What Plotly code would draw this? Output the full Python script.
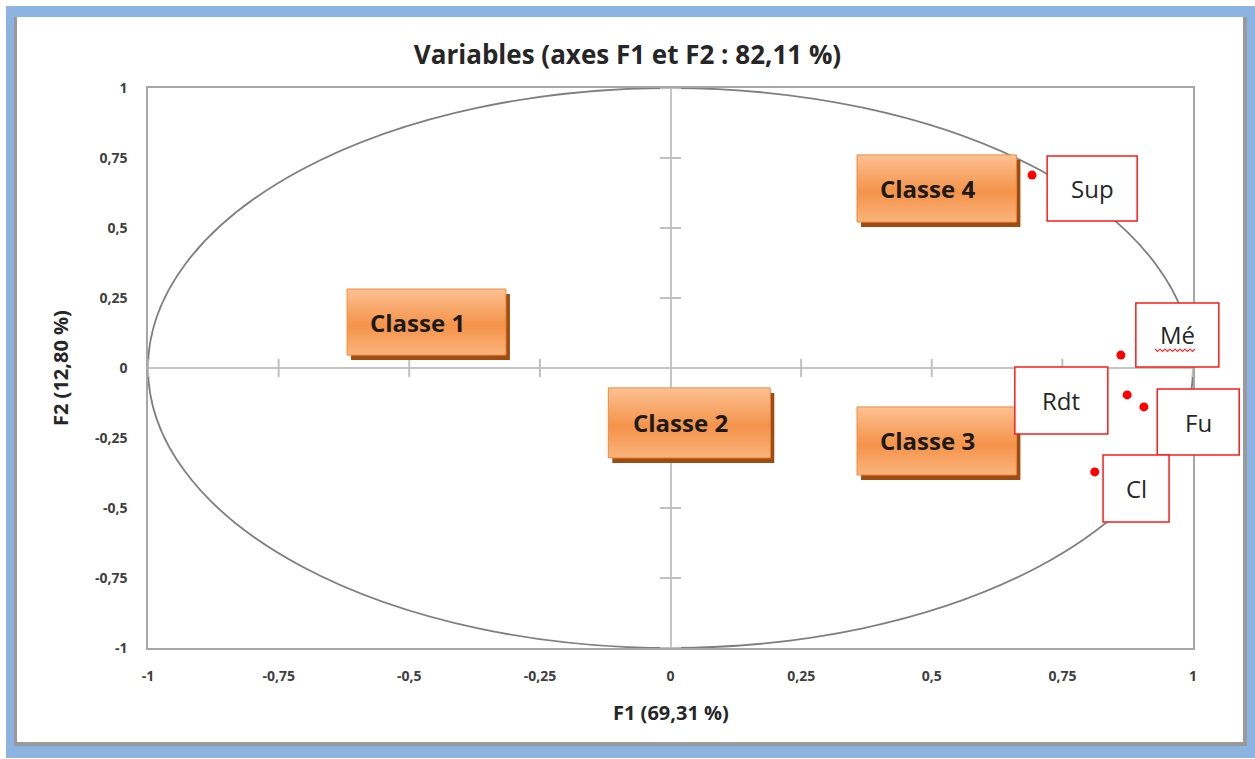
import plotly.graph_objects as go

# Variable coordinates on the first two factorial axes
variables = ["Sup", "Mé", "Rdt", "Fu", "Cl"]
f1_coords = [0.692, 0.862, 0.874, 0.906, 0.812]
f2_coords = [0.689, 0.046, -0.096, -0.139, -0.371]

# Class groupings shown as labelled boxes
classes = ["Classe 1", "Classe 2", "Classe 3", "Classe 4"]

tick_vals = [-1, -0.75, -0.5, -0.25, 0, 0.25, 0.5, 0.75, 1]
tick_text = ["-1", "-0,75", "-0,5", "-0,25", "0", "0,25", "0,5", "0,75", "1"]

title_text = "Variables (axes F1 et F2 : 82,11 %)"
x_title = "F1 (69,31 %)"
y_title = "F2 (12,80 %)"

W, H = 1255, 759
ML, MR, MT, MB = 148, 62, 88, 111
PW, PH = W - ML - MR, H - MT - MB


def px_x(px):
    """pixel column -> paper x"""
    return (px - ML) / PW


def px_y(py):
    """pixel row -> paper y"""
    return (H - MB - py) / PH


def data_to_paper(v):
    """axis value in [-1, 1] -> paper fraction"""
    return (v + 1) / 2.0


# pixel -> data scale
SX = PW / 2.0
SY = PH / 2.0

# class box extents in data units (x0, x1, y0, y1)
class_boxes = {
    "Classe 1": (-0.619, -0.315, 0.046, 0.282),
    "Classe 2": (-0.119, 0.191, -0.321, -0.071),
    "Classe 3": (0.357, 0.662, -0.382, -0.139),
    "Classe 4": (0.357, 0.662, 0.521, 0.761),
}

# label boxes: centre (data units) and size (px)
label_boxes = {
    "Sup": (0.807, 0.641, 90, 65),
    "Mé": (0.970, 0.118, 83, 64),
    "Rdt": (0.748, -0.116, 93, 67),
    "Fu": (1.010, -0.193, 82, 66),
    "Cl": (0.891, -0.430, 66, 67),
}

FONT = "Open Sans"
fig = go.Figure()

# small tick marks on the crossing axes
cross = [t for t in tick_vals if t != 0]
fig.add_trace(go.Scatter(
    x=cross, y=[0] * len(cross), mode="markers", hoverinfo="skip",
    marker=dict(symbol="line-ns", size=13, line=dict(color="#bfbfbf", width=2)),
    showlegend=False))
fig.add_trace(go.Scatter(
    x=[0] * len(cross), y=cross, mode="markers", hoverinfo="skip",
    marker=dict(symbol="line-ew", size=15, line=dict(color="#bfbfbf", width=2)),
    showlegend=False))

# orange class boxes with drop shadow and vertical gradient
dx, dy = 4 / SX, 5 / SY
for name in classes:
    x0, x1, y0, y1 = class_boxes[name]
    fig.add_trace(go.Scatter(
        x=[x0 + dx, x1 + dx, x1 + dx, x0 + dx, x0 + dx],
        y=[y0 - dy, y0 - dy, y1 - dy, y1 - dy, y0 - dy],
        mode="lines", fill="toself", fillcolor="#9e4c12",
        line=dict(width=0, color="#9e4c12"), hoverinfo="skip", showlegend=False))
    fig.add_trace(go.Scatter(
        x=[x0, x1, x1, x0, x0], y=[y0, y0, y1, y1, y0],
        mode="lines", fill="toself",
        fillgradient=dict(type="vertical",
                          colorscale=[[0, "#fab47c"], [0.45, "#f5934a"], [1, "#fcc193"]]),
        line=dict(width=1, color="#f08a3c"), hoverinfo="skip", showlegend=False))
    fig.add_annotation(x=(x0 + x1) / 2, y=(y0 + y1) / 2, xref="x", yref="y",
                       text=name, showarrow=False, xshift=-9,
                       font=dict(family=FONT, size=24, color="#1a1a1a", weight="bold"))

# variable points
fig.add_trace(go.Scatter(
    x=f1_coords, y=f2_coords, mode="markers", text=variables,
    marker=dict(color="#ff0000", size=9), showlegend=False))

shapes = []
# outer blue frame with shadowed white panel
shapes.append(dict(type="rect", xref="paper", yref="paper", layer="below",
                   x0=px_x(6), x1=px_x(1255), y0=px_y(758), y1=px_y(6),
                   fillcolor="#8db3e2", line=dict(width=0)))
shapes.append(dict(type="rect", xref="paper", yref="paper", layer="below",
                   x0=px_x(14), x1=px_x(1247), y0=px_y(746), y1=px_y(17),
                   fillcolor="#9a9a9a", line=dict(width=0)))
shapes.append(dict(type="rect", xref="paper", yref="paper", layer="below",
                   x0=px_x(17), x1=px_x(1243), y0=px_y(742), y1=px_y(17),
                   fillcolor="white", line=dict(width=0)))
# correlation circle
shapes.append(dict(type="circle", xref="x", yref="y", layer="below",
                   x0=-1, x1=1, y0=-1, y1=1, line=dict(color="#7f7f7f", width=1.8)))

# white label boxes with red outline, text on top
for name in variables:
    cx, cy, bw, bh = label_boxes[name]
    px_c, py_c = data_to_paper(cx), data_to_paper(cy)
    hw, hh = bw / 2 / PW, bh / 2 / PH
    shapes.append(dict(type="rect", xref="paper", yref="paper", layer="above",
                       x0=px_c - hw, x1=px_c + hw, y0=py_c - hh, y1=py_c + hh,
                       fillcolor="white", line=dict(color="#ff1a1a", width=1.5)))
    fig.add_annotation(x=px_c, y=py_c, xref="paper", yref="paper", text=name,
                       showarrow=False, xanchor="center", yanchor="middle",
                       font=dict(family=FONT, size=24, color="#262626"))

# spell-check squiggle under "Mé"
pts = []
xs = 1155
i = 0
while xs <= 1197:
    pts.append((px_x(xs), px_y(350 + (1.5 if i % 2 else -1.0))))
    xs += 2.5
    i += 1
path = "M " + " L ".join(f"{a:.5f},{b:.5f}" for a, b in pts)
shapes.append(dict(type="path", xref="paper", yref="paper", path=path,
                   line=dict(color="#ff3030", width=1.2), layer="above"))

# axis titles
fig.add_annotation(x=0.5, y=px_y(712), xref="paper", yref="paper", text=x_title,
                   showarrow=False, xanchor="center", yanchor="middle",
                   font=dict(family=FONT, size=20, color="#262626", weight="bold"))
fig.add_annotation(x=px_x(60), y=0.5, xref="paper", yref="paper", text=y_title,
                   textangle=-90, showarrow=False, xanchor="center", yanchor="middle",
                   font=dict(family=FONT, size=20, color="#262626", weight="bold"))

axis_common = dict(
    range=[-1, 1], tickvals=tick_vals, ticktext=tick_text, showgrid=False,
    zeroline=True, zerolinecolor="#c4c4c4", zerolinewidth=2,
    showline=True, mirror=True, linecolor="#a6a6a6", linewidth=1.5,
    ticks="outside", tickcolor="rgba(0,0,0,0)",
    tickfont=dict(family=FONT, size=14, color="#404040", weight="bold"),
)

fig.update_layout(
    width=W, height=H,
    margin=dict(l=ML, r=MR, t=MT, b=MB, autoexpand=False),
    paper_bgcolor="white", plot_bgcolor="rgba(0,0,0,0)",
    title=dict(text=title_text, x=0.5, xref="container", xanchor="center",
               y=1 - 55 / H, yref="container", yanchor="middle",
               font=dict(family=FONT, size=26, color="#262626", weight="bold")),
    xaxis=dict(**axis_common, ticklen=14),
    yaxis=dict(**axis_common, ticklen=16),
    shapes=shapes,
    showlegend=False,
)

fig.write_html("out.html")
